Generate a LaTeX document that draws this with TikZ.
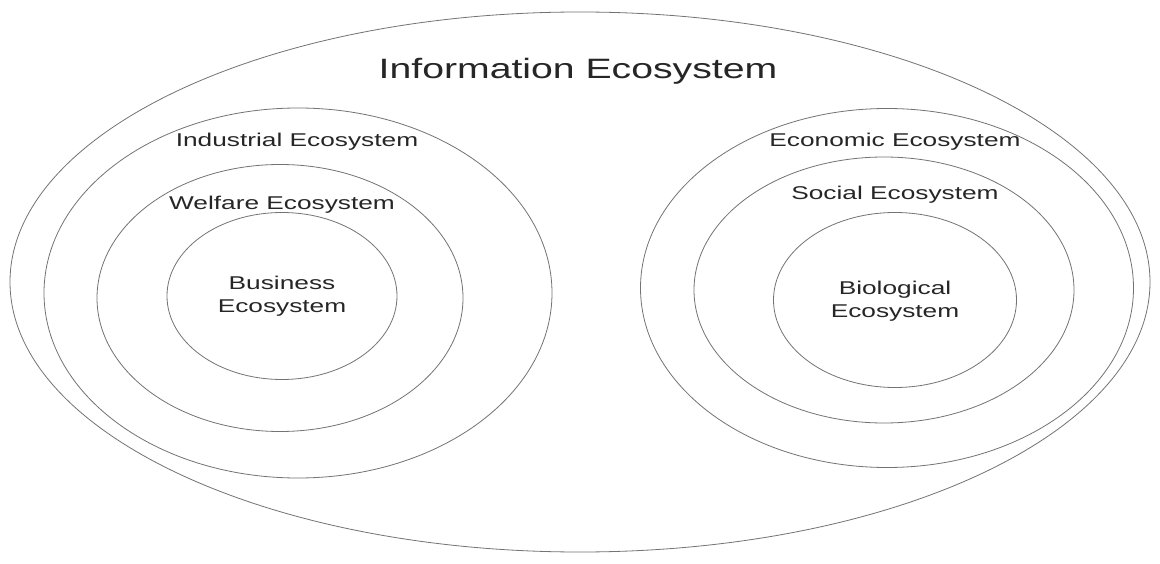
\documentclass[tikz,border=0pt]{standalone}
\usepackage{fontspec}
\setmainfont{Liberation Sans}
\usetikzlibrary{shapes.geometric}
\newcommand{\sx}[1]{\scalebox{1.42}[1]{#1}}
\begin{document}
\begin{tikzpicture}[x=1pt,y=-1pt,
  ring/.style={draw=black!55, line width=0.8pt, ellipse, inner sep=0pt},
  lbl/.style={font=\fontsize{18.5}{23}\selectfont, text=black!85, align=center, inner sep=0pt},
  biglbl/.style={font=\fontsize{28}{32}\selectfont, text=black!85, inner sep=0pt}]
\useasboundingbox[fill=white] (0,0) rectangle (1160,564);
% outer
\node[ring, minimum width=1140pt, minimum height=540pt] (info) at (580,282) {};
% left group
\node[ring, minimum width=508pt, minimum height=370pt] (ind) at (298,293) {};
\node[ring, minimum width=366pt, minimum height=267pt] (wel) at (280,298) {};
\node[ring, minimum width=230pt, minimum height=167pt] (bus) at (282,296) {};
% right group
\node[ring, minimum width=493pt, minimum height=359pt] (eco) at (887,288) {};
\node[ring, minimum width=380pt, minimum height=266pt] (soc) at (884,290) {};
\node[ring, minimum width=243pt, minimum height=175pt] (bio) at (895,300) {};
% labels
\node[biglbl] (tinfo) at (578,71) {\scalebox{1.4}[1]{Information Ecosystem}};
\node[lbl] (tind) at (297,142) {\sx{Industrial Ecosystem}};
\node[lbl] (twel) at (282,205) {\sx{Welfare Ecosystem}};
\node[lbl] (tbus) at (282,296) {\sx{Business}\\\sx{Ecosystem}};
\node[lbl] (teco) at (895,142) {\sx{Economic Ecosystem}};
\node[lbl] (tsoc) at (895,195) {\sx{Social Ecosystem}};
\node[lbl] (tbio) at (895,301) {\sx{Biological}\\\sx{Ecosystem}};
\end{tikzpicture}
\end{document}
